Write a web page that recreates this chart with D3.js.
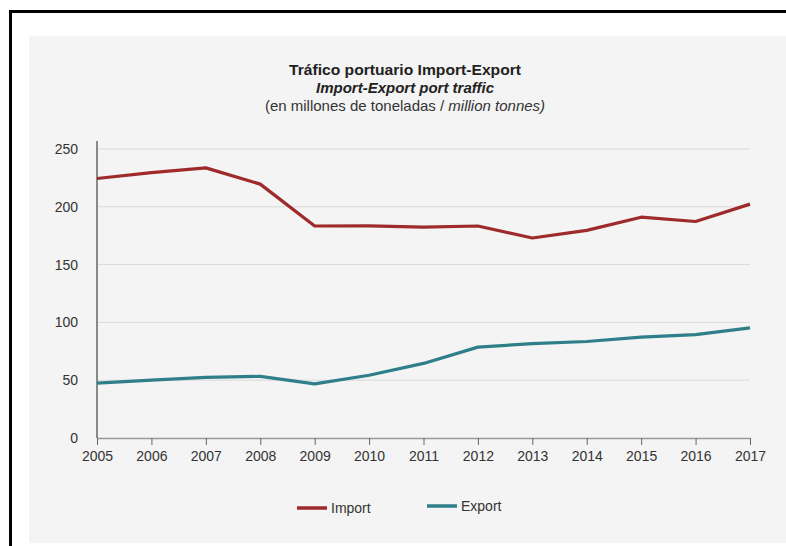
<!DOCTYPE HTML>
<html>
<head>
<meta charset="utf-8">
<title>Tráfico portuario Import-Export</title>
<style>
body { margin: 0; background: #fff; }
text { font-family: "Liberation Sans", Arial, sans-serif; }
</style>
</head>
<body>
<div id="chart"></div>
<script src="https://cdnjs.cloudflare.com/ajax/libs/d3/7.8.5/d3.min.js" charset="utf-8"></script>
<script>
// datos
var years = [2005, 2006, 2007, 2008, 2009, 2010, 2011, 2012, 2013, 2014, 2015, 2016, 2017];
var importData = [224.5, 229.5, 233.7, 219.6, 183.4, 183.5, 182.5, 183.4, 173, 179.6, 191, 187.3, 202.3];
var exportData = [47.4, 50, 52.4, 53.3, 46.8, 54.3, 64.5, 78.6, 81.7, 83.5, 87.2, 89.5, 95.3];
var yTicks = [0, 50, 100, 150, 200, 250];
var seriesNames = ["Import", "Export"];
var colors = ["#9e2a2b", "#2f7f8b"];

var svg = d3.select("#chart")
	.append("svg")
	.attr("width", 786)
	.attr("height", 546);

// marco y fondo
svg.append("rect")
	.attr("x", 10.5).attr("y", 11.5)
	.attr("width", 800).attr("height", 560)
	.attr("fill", "#fff")
	.attr("stroke", "#000")
	.attr("stroke-width", 3);
svg.append("rect")
	.attr("x", 29).attr("y", 36)
	.attr("width", 760).attr("height", 507)
	.attr("fill", "#f4f4f4");

// títulos
var title = svg.append("text")
	.attr("text-anchor", "middle")
	.attr("fill", "#222");
title.append("tspan").attr("x", 405).attr("y", 75)
	.attr("font-size", 15).attr("font-weight", "bold")
	.attr("textLength", 232).attr("lengthAdjust", "spacingAndGlyphs")
	.text("Tráfico portuario Import-Export");
title.append("tspan").attr("x", 405).attr("y", 93)
	.attr("font-size", 15).attr("font-weight", "bold").attr("font-style", "italic")
	.text("Import-Export port traffic");
var sub = title.append("tspan").attr("x", 405).attr("y", 111).attr("font-size", 15).attr("fill", "#333");
sub.append("tspan").text("(en millones de toneladas / ");
sub.append("tspan").attr("font-style", "italic").text("million tonnes)");

var x = d3.scaleLinear().domain([2005, 2017]).range([97, 750]);
var y = d3.scaleLinear().domain([0, 250]).range([438, 149]);

// rejilla
svg.append("g")
	.selectAll("line")
	.data(yTicks.filter(function(d){ return d > 0; }))
	.enter()
	.append("line")
	.attr("x1", x(2005)).attr("x2", x(2017))
	.attr("y1", function(d){ return y(d); })
	.attr("y2", function(d){ return y(d); })
	.attr("stroke", "#d9d9d9")
	.attr("stroke-width", 1);

// ejes
var yAxis = svg.append("g")
	.attr("transform", "translate(" + x(2005) + ",0)")
	.call(d3.axisLeft(y).tickValues(yTicks).tickSize(0).tickPadding(19));
yAxis.select(".domain").attr("stroke", "#666").attr("stroke-width", 1.5)
	.attr("d", "M0," + (y(250) - 8) + "V" + y(0));
yAxis.selectAll("text").attr("font-size", 14).attr("fill", "#333")
	.style("font-family", "'Liberation Sans', Arial, sans-serif");

var xAxis = svg.append("g")
	.attr("transform", "translate(0," + y(0) + ")")
	.call(d3.axisBottom(x).tickValues(years).tickFormat(d3.format("d")).tickSizeInner(7).tickSizeOuter(0).tickPadding(6));
xAxis.select(".domain").attr("stroke", "#999").attr("stroke-width", 1.5);
xAxis.selectAll(".tick line").attr("stroke", "#666");
xAxis.selectAll("text").attr("font-size", 14).attr("fill", "#333")
	.style("font-family", "'Liberation Sans', Arial, sans-serif");

// líneas
var line = d3.line()
	.x(function(d, i){ return x(years[i]); })
	.y(function(d){ return y(d); });

[importData, exportData].forEach(function(s, k){
	svg.append("path")
		.attr("d", line(s))
		.attr("fill", "none")
		.attr("stroke", colors[k])
		.attr("stroke-width", 3.2)
		.attr("stroke-linejoin", "round");
});

// leyenda
var legendX = [297, 427];
var legend = svg.append("g")
	.selectAll("g")
	.data(seriesNames)
	.enter()
	.append("g")
	.attr("transform", function(d, i){ return "translate(" + legendX[i] + "," + (i == 0 ? 508 : 506) + ")"; });
legend.append("line")
	.attr("x1", 0).attr("x2", 30)
	.attr("stroke", function(d, i){ return colors[i]; })
	.attr("stroke-width", 3.5);
legend.append("text")
	.attr("x", 34).attr("y", 5)
	.attr("font-size", 14).attr("fill", "#333")
	.text(function(d){ return d; });
</script>
</body>
</html>
